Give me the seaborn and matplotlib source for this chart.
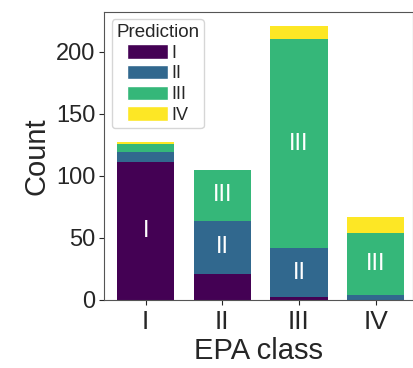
import matplotlib
matplotlib.use("Agg")
import matplotlib.pyplot as plt
from matplotlib.patches import Patch
import numpy as np
import pandas as pd
import seaborn as sns

epa_classes = ["I", "II", "III", "IV"]
pred_levels = ["I", "II", "III", "IV"]
# counts per true EPA class, one list per predicted class
pred_I = [111, 21, 2, 0]
pred_II = [8, 43, 40, 4]
pred_III = [7, 41, 168, 50]
pred_IV = [1, 0, 11, 13]

sns.set_style("ticks")
plt.rcParams["font.family"] = ["Liberation Sans", "DejaVu Sans"]

colors = ["#440154", "#31688e", "#35b779", "#fde725"]

counts = np.array([pred_I, pred_II, pred_III, pred_IV])
cum = counts.cumsum(axis=0)

fig, ax = plt.subplots(figsize=(4.14, 3.68), dpi=100)

# draw cumulative layers from the top down so lower ones overlay
for k in range(3, -1, -1):
    df = pd.DataFrame({"EPA class": epa_classes, "Count": cum[k]})
    sns.barplot(data=df, x="EPA class", y="Count", color=colors[k],
                width=0.75, saturation=1, linewidth=0, ax=ax)

# labels inside the larger segments
for j in range(4):
    for k in range(4):
        h = counts[k, j]
        if h >= 30:
            bottom = cum[k, j] - h
            ax.text(j, bottom + h / 2, pred_levels[k], color="white",
                    ha="center", va="center", fontsize=17)

ax.set_xlim(-0.54, 3.49)
ax.set_ylim(0, 232)
ax.set_yticks([0, 50, 100, 150, 200])
ax.set_xlabel("EPA class", fontsize=21, labelpad=2)
ax.set_ylabel("Count", fontsize=21, labelpad=4)
ax.tick_params(axis="x", labelsize=19, pad=4)
ax.tick_params(axis="y", labelsize=17, pad=3)
for s in ax.spines.values():
    s.set_color("#555555")

handles = [Patch(facecolor=c) for c in colors]
ax.legend(handles, pred_levels, title="Prediction", loc="upper left",
          fontsize=13, title_fontsize=13.5, handlelength=2.3,
          handleheight=0.85, handletextpad=0.2, labelspacing=0.18,
          borderpad=0.25, borderaxespad=0.4)

plt.subplots_adjust(left=0.252, right=0.998, top=0.967, bottom=0.185)
plt.savefig("out.png", dpi=100)
